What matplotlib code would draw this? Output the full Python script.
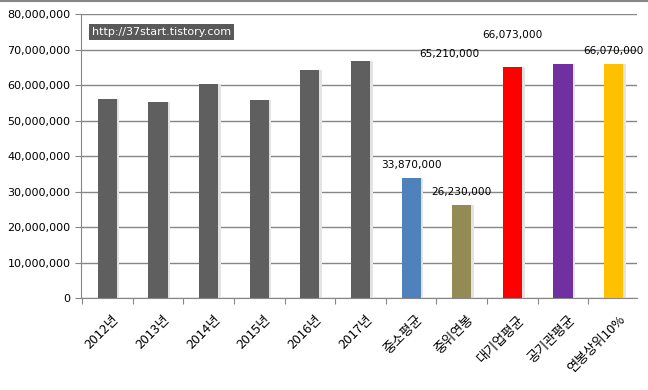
import matplotlib
matplotlib.use("Agg")
import matplotlib.pyplot as plt
import numpy as np
from matplotlib.ticker import FuncFormatter, FixedLocator

plt.rcParams['font.family'] = ['Noto Sans CJK KR', 'DejaVu Sans']

categories = ["2012년", "2013년", "2014년", "2015년", "2016년", "2017년",
              "중소평균", "중위연봉", "대기업평균", "공기관평균", "연봉상위10%"]
values = [56000000, 55300000, 60300000, 55900000, 64200000, 66800000,
          33870000, 26230000, 65210000, 66073000, 66070000]
colors = ["#5f5f5f"] * 6 + ["#4f81bd", "#948a54", "#ff0000", "#7030a0", "#ffc000"]

# data labels as they sit in the original (some are shifted off their bar)
label_texts = ["33,870,000", "26,230,000", "65,210,000", "66,073,000", "66,070,000"]
label_x = [6.0, 7.0, 6.75, 8.0, 10.0]
label_y = [37500000, 29900000, 68700000, 74100000, 69600000]

fig = plt.figure(figsize=(6.48, 3.90), dpi=100)
ax = fig.add_axes([0.125, 0.236, 0.858, 0.727])

x = np.arange(len(categories))
# soft shadow behind bars
ax.bar(x + 0.05, values, width=0.38, color="#e3e3e3", zorder=2)
ax.bar(x, values, width=0.38, color=colors, zorder=3)

for t, lx, ly in zip(label_texts, label_x, label_y):
    ax.text(lx, ly, t, ha="center", va="center", fontsize=7.6,
            family="DejaVu Sans", color="black", zorder=4)

ax.set_xlim(-0.52, 10.46)
ax.set_ylim(0, 80000000)
ax.set_yticks(np.arange(0, 80000001, 10000000))
ax.yaxis.set_major_formatter(FuncFormatter(lambda v, p: f"{int(v):,}"))
ax.grid(axis="y", color="#868686", linewidth=1, zorder=1)

ax.xaxis.set_major_locator(FixedLocator(np.arange(-0.5, 11, 1)))
ax.xaxis.set_minor_locator(FixedLocator(x + 0.1))
ax.set_xticklabels([], minor=False)
ax.set_xticklabels(categories, minor=True, rotation=45, ha="right",
                   va="top", rotation_mode="anchor", fontsize=9.5)
ax.tick_params(axis="x", which="major", length=4, color="#868686")
ax.tick_params(axis="x", which="minor", length=0, pad=11)
ax.tick_params(axis="y", length=4, color="#868686", labelsize=8)
for lab in ax.get_yticklabels():
    lab.set_family("DejaVu Sans")

for s in ["top", "right"]:
    ax.spines[s].set_visible(False)
for s in ["left", "bottom"]:
    ax.spines[s].set_color("#868686")

# watermark box
fig.text(0.142, 0.918, "http://37start.tistory.com", fontsize=8,
         family="DejaVu Sans", color="white", va="center", ha="left",
         bbox=dict(boxstyle="square,pad=0.3", fc="#595959", ec="none"))

# top border line of the chart frame
fig.add_artist(plt.Line2D([0, 1], [0.998, 0.998], color="#868686", lw=1.5))

fig.savefig("out.png", dpi=100)
